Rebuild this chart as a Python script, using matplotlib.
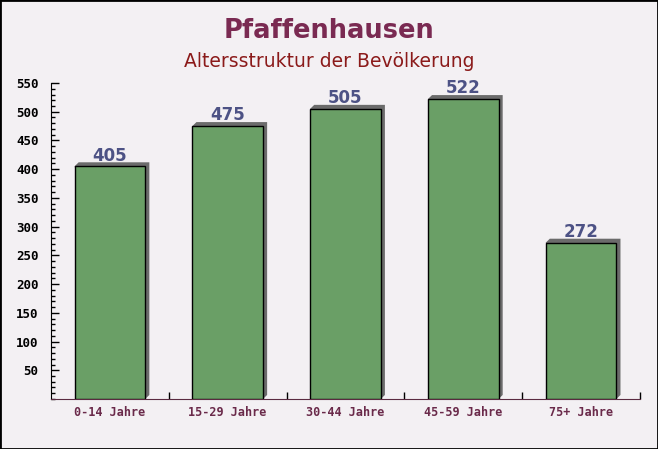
import matplotlib
matplotlib.use('Agg')
import matplotlib.pyplot as plt
from matplotlib.ticker import MultipleLocator
from matplotlib.patches import Rectangle, Polygon

# Daten
categories = ['0-14 Jahre', '15-29 Jahre', '30-44 Jahre', '45-59 Jahre', '75+ Jahre']
values = [405, 475, 505, 522, 272]

_BG = '#f3f0f3'
_BAR = '#6a9f66'
_SHADOW = '#6b6b6b'
_VALUE_COLOR = '#4d5285'
_TITLE_COLOR = '#7a2a52'
_SUB_COLOR = '#8b1a1a'
_XLABEL_COLOR = '#6a2a4a'
_WIDTH = 0.6
_DX = 0.035   # Schattenversatz (Kategorien)
_DY = 7       # Schattenversatz (Werte)

fig = plt.figure(figsize=(6.58, 4.49), dpi=100, facecolor=_BG)
fig.patches.append(Rectangle((0, 0), 1, 1, transform=fig.transFigure, fill=False,
                             edgecolor='black', linewidth=2))

ax = fig.add_axes([0.0775, 0.1114, 0.895, 0.7037])
ax.set_facecolor('none')

x = list(range(len(categories)))

# Schatten als Parallelogramm
for i, v in zip(x, values):
    x0, x1 = i - _WIDTH / 2, i + _WIDTH / 2
    pts = [(x0, v), (x0 + _DX, v + _DY), (x1 + _DX, v + _DY), (x1 + _DX, _DY), (x1, 0)]
    ax.add_patch(Polygon(pts, closed=True, facecolor=_SHADOW, edgecolor='none', zorder=2,
                         clip_on=False))

ax.bar(x, values, width=_WIDTH, color=_BAR, edgecolor='black', linewidth=1, zorder=3)

for i, v in zip(x, values):
    ax.text(i, v + 10, str(v), ha='center', va='baseline', fontsize=12, fontweight='bold',
            color=_VALUE_COLOR, zorder=4)

ax.set_xlim(-0.5, len(categories) - 0.5)
ax.set_ylim(0, 550)

ax.yaxis.set_minor_locator(MultipleLocator(10))
ax.set_yticks([50, 100, 150, 200, 250, 300, 350, 400, 450, 500, 550])
ax.tick_params(axis='y', which='major', direction='in', length=6, width=1, pad=9,
               labelsize=9)
ax.tick_params(axis='y', which='minor', direction='in', length=3, width=1)
for lab in ax.get_yticklabels():
    lab.set_fontfamily('DejaVu Sans Mono')
    lab.set_fontweight('bold')

ax.set_xticks(x)
ax.set_xticklabels(categories, fontfamily='DejaVu Sans Mono', fontweight='bold',
                   fontsize=8.5, color=_XLABEL_COLOR)
ax.set_xticks([i + 0.5 for i in x[:-1]] + [len(categories) - 0.5], minor=True)
ax.tick_params(axis='x', which='major', length=0, pad=5)
ax.tick_params(axis='x', which='minor', direction='in', length=5, width=1)

for s in ['top', 'right']:
    ax.spines[s].set_visible(False)
ax.spines['left'].set_color('black')
ax.spines['bottom'].set_color('#5a2a40')

fig.text(0.5, 0.932, 'Pfaffenhausen', ha='center', va='center', fontsize=18.5,
         fontweight='bold', color=_TITLE_COLOR)
fig.text(0.5, 0.862, 'Altersstruktur der Bevölkerung', ha='center', va='center',
         fontsize=13.5, color=_SUB_COLOR)

fig.savefig('out.png', dpi=100, facecolor=_BG)
